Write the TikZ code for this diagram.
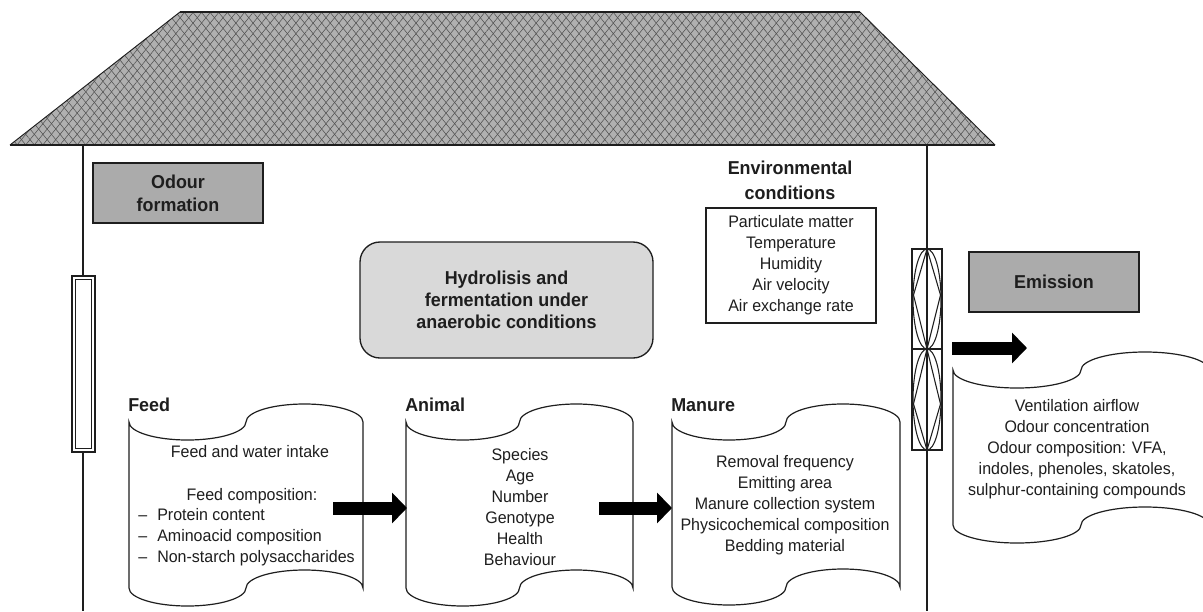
\documentclass[tikz,border=0pt]{standalone}
\usepackage{fontspec}
\setmainfont[FakeStretch=0.96]{Liberation Sans}
\usetikzlibrary{arrows.meta,patterns.meta}
\definecolor{ink}{HTML}{1E1E1E}
\definecolor{boxgray}{HTML}{ABABAB}
\definecolor{lightbox}{HTML}{D9D9D9}
\definecolor{roofgray}{HTML}{B0B0B0}
\definecolor{roofline}{HTML}{505050}
\newcommand\txtfont{\fontsize{12.5}{15.75}\selectfont}
\newcommand\boldfont{\fontsize{14}{17}\selectfont\bfseries}
\newcommand\docshape[4]{% l t w b
  \draw[docline] (#1,#2)
    arc[start angle=180,end angle=0,x radius=#3/4,y radius=18]
    arc[start angle=180,end angle=360,x radius=#3/4,y radius=18]
    -- (#1+#3,#4)
    arc[start angle=0,end angle=-180,x radius=#3/4,y radius=18]
    arc[start angle=0,end angle=180,x radius=#3/4,y radius=18]
    -- cycle;}
\tikzset{
  docline/.style={draw=ink, line width=0.9pt, fill=white},
  wall/.style={draw=ink, line width=0.9pt},
  graybox/.style={draw=ink, line width=1pt, fill=boxgray, minimum width=127.5pt,
    minimum height=45pt, align=center, text=ink, inner sep=0pt,
    font=\fontsize{14}{17.25}\selectfont\bfseries},
  bigarrow/.style={line width=9.75pt, draw=black, -{Triangle[length=11.25pt,width=22.5pt]}},
  plaintext/.style={align=center, font=\txtfont, text=ink, inner sep=0pt},
  heading/.style={font=\boldfont, text=ink, inner sep=0pt, anchor=west},
}
\begin{document}
\begin{tikzpicture}[x=0.75pt,y=-0.75pt]
\useasboundingbox (0,0) rectangle (1203,611);
\clip (0,0) rectangle (1203,611);
\fill[white] (0,0) rectangle (1203,611);

% roof
\coordinate (rtl) at (180,12);
\coordinate (rtr) at (860,12);
\coordinate (rbr) at (995,145);
\coordinate (rbl) at (10,145);
\fill[roofgray] (rtl)--(rtr)--(rbr)--(rbl)--cycle;
\fill[pattern={Lines[angle=51,distance=5pt,line width=0.4pt]},pattern color=roofline] (rtl)--(rtr)--(rbr)--(rbl)--cycle;
\fill[pattern={Lines[angle=-51,distance=5pt,line width=0.4pt]},pattern color=roofline] (rtl)--(rtr)--(rbr)--(rbl)--cycle;
\draw[ink, line width=0.7pt] (rtr)--(rbr) (rbl)--(rtl);
\draw[ink, line width=1.8pt] (rtl)--(rtr) (rbl)--(rbr);

% walls
\coordinate (lw1) at (83,145);
\coordinate (lw2) at (83,611);
\coordinate (rw1) at (927,145);
\coordinate (rw2) at (927,611);
\draw[wall] (lw1)--(lw2);
\draw[wall] (rw1)--(rw2);

% left window
\draw[ink, line width=1.4pt, fill=white] (72,276) rectangle (95,452);
\draw[ink, line width=0.8pt] (75.5,279.5) rectangle (91.5,448.5);

% fan
\draw[ink, line width=0.8pt] (912,249) rectangle (942,450);
\draw[ink, line width=0.8pt] (912,349)--(942,349);
\draw[ink, line width=0.8pt] (927,299) ellipse [x radius=14, y radius=50];
\draw[ink, line width=0.8pt] (927,399.5) ellipse [x radius=14, y radius=50.5];
\draw[ink, line width=0.8pt] (927,249)--(913.5,295)--(927,349)--(940.5,295)--cycle;
\draw[ink, line width=0.8pt] (927,349)--(913.5,404)--(927,450)--(940.5,404)--cycle;

% boxes
\node[graybox] (odour) at (178,193) {Odour\\formation};
\node[graybox] (emission) at (1054,282) {Emission};
\node[draw=ink, line width=1pt, fill=lightbox, rounded corners=15pt,
      minimum width=219.75pt, minimum height=87pt, align=center, text=ink,
      font=\fontsize{14}{16.5}\selectfont\bfseries] (hydro) at (506.5,300)
      {Hydrolisis and\\fermentation under\\anaerobic conditions};

\node[align=center, text=ink, inner sep=0pt, font=\fontsize{14}{18.75}\selectfont\bfseries]
  (envtitle) at (790,180) {Environmental\\conditions};
\node[draw=ink, line width=0.9pt, minimum width=127.5pt, minimum height=86.25pt,
      plaintext] (env) at (791,265.5)
  {Particulate matter\\Temperature\\Humidity\\Air velocity\\Air exchange rate};

% document shapes
\docshape{129}{422}{234}{588}
\docshape{406}{422}{227}{588}
\docshape{672}{422}{228}{587}
\docshape{953}{370}{256}{525}

% headings
\node[heading] (feedh) at (128,405) {Feed};
\node[heading] (animalh) at (405,405) {Animal};
\node[heading] (manureh) at (671,405) {Manure};

% feed text
\node[plaintext] (feed1) at (250,452) {Feed and water intake};
\node[plaintext] (feed2) at (252,496) {Feed composition:};
\node[plaintext, align=left, anchor=west] (feed3) at (138,537)
  {\makebox[14.25pt][l]{–}Protein content\\
   \makebox[14.25pt][l]{–}Aminoacid composition\\
   \makebox[14.25pt][l]{–}Non-starch polysaccharides};

% animal text
\node[plaintext] (animalt) at (520,507)
  {Species\\Age\\Number\\Genotype\\Health\\Behaviour};
% manure text
\node[plaintext] (manuret) at (785,505)
  {Removal frequency\\Emitting area\\Manure collection system\\Physicochemical composition\\Bedding material};
% emission text
\node[plaintext] (emissiont) at (1077,449)
  {Ventilation airflow\\Odour concentration\\Odour composition: VFA,\\indoles, phenoles, skatoles,\\sulphur-containing compounds};

% arrows
\coordinate (a1s) at (333,508);
\coordinate (a1e) at (407,508);
\coordinate (a2s) at (599,508);
\coordinate (a2e) at (672,508);
\coordinate (a3s) at (952,348);
\coordinate (a3e) at (1027,348);
\draw[bigarrow] (a1s) -- (a1e);
\draw[bigarrow] (a2s) -- (a2e);
\draw[bigarrow] (a3s) -- (a3e);
\end{tikzpicture}
\end{document}
